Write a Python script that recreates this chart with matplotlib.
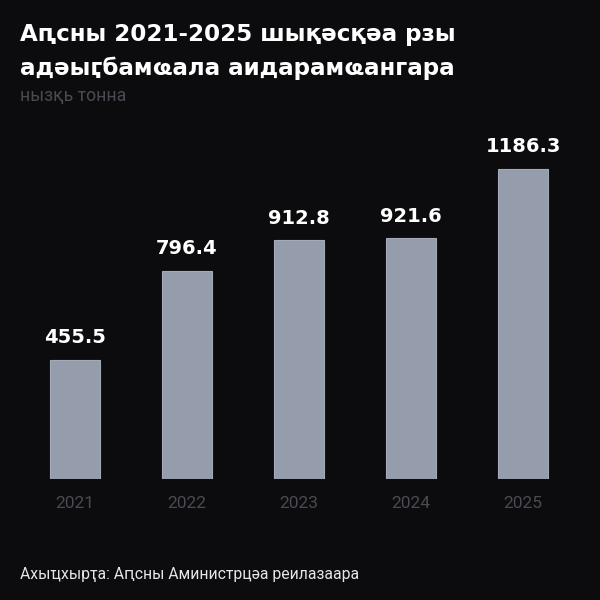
import matplotlib
matplotlib.use("Agg")
import matplotlib.pyplot as plt

years = ["2021", "2022", "2023", "2024", "2025"]
values = [455.5, 796.4, 912.8, 921.6, 1186.3]
value_labels = ["455.5", "796.4", "912.8", "921.6", "1186.3"]

title_lines = ["Аԥсны 2021-2025 шықәсқәа рзы", "адәыӷбамҩала аидарамҩангара"]
unit = "нызқь тонна"
source = "Ахыҵхырҭа: Аԥсны Аминистрцәа реилазаара"

bg = "#0c0c0e"
bar_color = "#959cab"
muted = "#4a4b52"

plt.rcParams['font.family'] = ['Roboto', 'DejaVu Sans']

fig = plt.figure(figsize=(6, 6), dpi=100, facecolor=bg)
ax = fig.add_axes([0, 121 / 600, 1, 389 / 600])
ax.set_facecolor(bg)

x = list(range(len(years)))
ax.bar(x, values, width=50 / 112, color=bar_color, edgecolor="#a4aab7", linewidth=0.8)

for xi, v, lab in zip(x, values, value_labels):
    ax.annotate(lab, (xi, v), xytext=(0, 12), textcoords="offset points",
                ha="center", va="baseline", color="white", fontsize=14,
                fontweight="bold", family=["DejaVu Sans"])

ax.set_xlim(-75 / 112, -75 / 112 + 600 / 112)
ax.set_ylim(0, 389 / 0.2613)
ax.set_xticks(x)
ax.set_xticklabels(years, fontsize=12.5, color=muted)
ax.tick_params(axis="x", length=0, pad=12)
ax.set_yticks([])
for s in ax.spines.values():
    s.set_visible(False)

for line, base in zip(title_lines, [41, 75]):
    fig.text(20 / 600, 1 - base / 600, line, ha="left", va="baseline",
             color="white", fontsize=16.6, fontweight="bold",
             family=["DejaVu Sans"])
fig.text(20 / 600, 1 - 101 / 600, unit, ha="left", va="baseline", color=muted,
         fontsize=12.8)
fig.text(20 / 600, 1 - 579 / 600, source, ha="left", va="baseline",
         color="#e6e6e6", fontsize=11.3)

fig.savefig("out.png", dpi=100, facecolor=bg)
